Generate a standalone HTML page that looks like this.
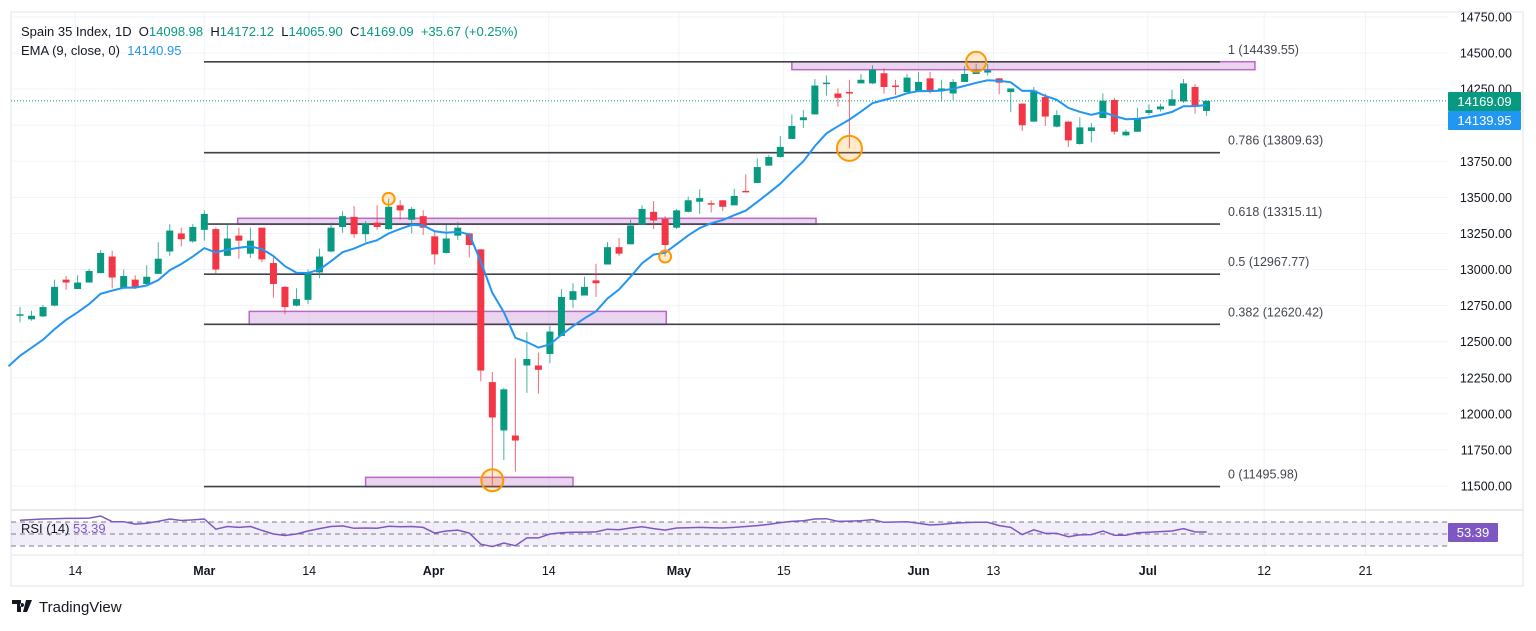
<!DOCTYPE html>
<html><head><meta charset="utf-8"><style>
html,body{margin:0;padding:0;background:#fff;}
body{width:1536px;height:626px;overflow:hidden;font-family:"Liberation Sans",sans-serif;}
svg text{font-family:"Liberation Sans",sans-serif;}
</style></head><body>
<svg id="chart" width="1536" height="626" xmlns="http://www.w3.org/2000/svg"></svg>
<script>
const opens=[12680,12655,12675,12750,12930,12865,12910,12975,13090,12875,12930,12900,12970,13125,13250,13195,13275,13280,13095,13235,13110,13290,13045,12880,12750,12790,12980,13125,13295,13365,13245,13325,13280,13445,13345,13370,13230,13115,13235,13250,13140,12220,11885,11850,12335,12335,12415,12540,12790,12820,12925,13035,13155,13175,13310,13400,13350,13290,13400,13470,13460,13480,13445,13545,13600,13720,13780,13905,14035,14075,14290,14220,14230,14290,14290,14360,14275,14230,14230,14325,14250,14220,14300,14355,14365,14325,14230,14150,14025,14195,13990,14025,13870,13960,14050,14175,13930,13955,14085,14110,14135,14165,14265,14098.98];
const closes=[12690,12680,12740,12880,12910,12910,12990,13115,12945,12955,12875,12950,13075,13270,13210,13295,13385,13000,13215,13200,13200,13070,12900,12740,12795,12975,13090,13290,13370,13245,13320,13295,13435,13410,13420,13290,13105,13215,13290,13170,12300,11975,12170,11815,12380,12305,12570,12810,12850,12880,12905,13155,13110,13305,13420,13340,13170,13410,13480,13495,13450,13435,13510,13535,13710,13780,13850,13995,14055,14275,14295,14190,14225,14315,14385,14265,14270,14330,14300,14235,14255,14300,14355,14380,14380,14295,14255,14000,14240,14060,14070,13895,13985,13985,14170,13955,13955,14050,14105,14130,14180,14290,14135,14169.09];
const highs=[12740,12715,12755,12930,12955,12960,13005,13135,13130,13000,12960,13030,13190,13315,13290,13315,13410,13290,13320,13290,13290,13290,13095,12885,12870,13000,13145,13325,13405,13440,13335,13445,13490,13480,13435,13410,13265,13310,13330,13255,13140,12290,12180,12385,12565,12425,12610,12865,12905,12950,13040,13190,13220,13345,13445,13475,13370,13420,13505,13555,13480,13480,13560,13660,13770,13795,13925,14075,14105,14320,14345,14255,14315,14355,14415,14395,14315,14355,14370,14370,14315,14320,14410,14425,14425,14325,14255,14150,14265,14220,14105,14030,14055,14015,14220,14190,13970,14120,14145,14150,14245,14320,14285,14172.12];
const lows=[12635,12645,12670,12745,12860,12865,12915,12975,12870,12870,12865,12885,12970,13095,13160,13185,13200,12975,13095,13075,13080,13050,12805,12690,12745,12760,12940,13120,13255,13220,13190,13275,13275,13345,13250,13240,13035,13110,13205,13085,12225,11496,11680,11600,12145,12140,12350,12540,12735,12820,12810,13035,13095,13175,13310,13280,13090,13280,13395,13385,13395,13405,13445,13535,13600,13720,13775,13905,13980,14075,14205,14130,13840,14290,14285,14220,14210,14230,14230,14220,14170,14175,14300,14355,14345,14215,14090,13960,14025,13995,13985,13850,13865,13880,14050,13935,13925,13955,14070,14095,14135,14155,14080,14065.90];
const rsiValues=[73,74,75,75.5,76,76,76.5,80,70.5,70.5,66.5,68,71,75,72.5,73.5,75,58,62.5,61,62.5,56,50,47.5,50,55,59,62.5,63.5,59.5,60,59.5,63,62,62.5,61,51.5,55,56.5,51.5,33,29,35,30.5,43.5,43.5,50,52,53,53,53.5,58,57,60,62,59,56.5,60,60.5,61,60.5,60,61,62.5,64,66,69,71,72,75,75.5,71,71.5,72,74,69.5,70,70.5,68,65,66,68,69,69.5,69.5,64,61,49,57,51,51,45.5,48.5,49,55,48,48,52,53,54,55,59,53.5,53.39];
const emaSeed=12330;
const priceTicks=[14750,14500,14250,14000,13750,13500,13250,13000,12750,12500,12250,12000,11750,11500];
const fibLevels=[1,0.786,0.618,0.5,0.382,0];
const fibPrices=[14439.55,13809.63,13315.11,12967.77,12620.42,11495.98];
const timeLabels=["14","Mar","14","Apr","14","May","15","Jun","13","Jul","12","21"];
const timeLabelIdx=[4.8,16,25.1,35.9,45.9,57.2,66.3,78,84.5,97.9,108,116.8];
const timeBold=[false,true,false,true,false,true,false,true,false,true,false,false];
const zonesPrice=[[14440,14385],[13355,13315],[12710,12620],[11560,11496]];
const zonesIdx=[[67.0,107.2],[18.9,69.1],[19.9,56.1],[30.0,48.0]];
const circleIdx=[83,72,32,56,41];
const circlePrice=[14440,13840,13490,13090,11540];
const circleR=[10,12.5,6,6,11];

const svg=document.getElementById('chart');
const NS='http://www.w3.org/2000/svg';
function yP(p){return 486-(p-11500)*(469/3250);}
function xI(i){return 20+i*11.52;}
function yR(v){return 534-(v-50)*0.6;}
function mk(tag,attrs,parent){const e=document.createElementNS(NS,tag);for(const k in attrs)e.setAttribute(k,attrs[k]);(parent||svg).appendChild(e);return e;}

// frame
let e;
e=mk('rect',{x:11,y:12,width:1512,height:574,fill:'none',stroke:'#e0e3eb','stroke-width':1});


const grid=mk('g',{});


priceTicks.forEach(p=>{mk('line',{x1:11,x2:1448,y1:yP(p),y2:yP(p),stroke:'#f0f3fa','stroke-width':1},grid);});
timeLabelIdx.forEach(i=>{mk('line',{x1:xI(i),x2:xI(i),y1:12,y2:555,stroke:'#f0f3fa','stroke-width':1},grid);});
e=mk('line',{x1:11,x2:1523,y1:510,y2:510,stroke:'#e0e3eb','stroke-width':1.5});


e=mk('line',{x1:11,x2:1523,y1:555,y2:555,stroke:'#e0e3eb','stroke-width':1});



// price axis labels
const pax=mk('g',{});


priceTicks.forEach(p=>{const t=mk('text',{x:1512,y:yP(p)+4.5,'text-anchor':'end','font-size':12.5,fill:'#131722'},pax);t.textContent=p.toFixed(2);

});

// zones
zonesPrice.forEach((z,k)=>{const r=mk('rect',{x:xI(zonesIdx[k][0]),y:yP(z[0]),width:xI(zonesIdx[k][1])-xI(zonesIdx[k][0]),height:Math.max(6,yP(z[1])-yP(z[0])),fill:'rgba(206,147,216,0.4)',stroke:'#ba68c8','stroke-width':1.5});

});

// fib lines
fibPrices.forEach((p,k)=>{const l=mk('line',{x1:204,x2:1220,y1:yP(p),y2:yP(p),stroke:'#40424a','stroke-width':1.6});


const t=mk('text',{x:1228,y:yP(p)-8,'font-size':12.5,fill:'#434651'});t.textContent=fibLevels[k]+' ('+p.toFixed(2)+')';

});

// current price line
e=mk('line',{x1:11,x2:1448,y1:yP(closes[closes.length-1]),y2:yP(closes[closes.length-1]),stroke:'#089981','stroke-width':1,'stroke-dasharray':'1 2'});



// candles
const cg=mk('g',{});


for(let i=0;i<opens.length;i++){
 const up=closes[i]>=opens[i];const col=up?'#089981':'#f23645';const x=xI(i);
 const g=mk('g',{},cg);
 
 
 mk('line',{x1:x,x2:x,y1:yP(highs[i]),y2:yP(lows[i]),stroke:col,'stroke-width':1,'stroke-opacity':0.75},g);
 const top=yP(Math.max(opens[i],closes[i])),bot=yP(Math.min(opens[i],closes[i]));
 mk('rect',{x:x-3.5,y:top,width:7,height:Math.max(1.5,bot-top),fill:col},g);
}

// EMA
let ema=emaSeed,pts=[[xI(-1),yP(emaSeed)]];
for(let i=0;i<closes.length;i++){ema=ema+(closes[i]-ema)*0.2;pts.push([xI(i),yP(ema)]);}
e=mk('polyline',{points:pts.map(p=>p[0].toFixed(1)+','+p[1].toFixed(1)).join(' '),fill:'none',stroke:'#2196f3','stroke-width':2});



// circles
circleIdx.forEach((ci,k)=>{const c=mk('circle',{cx:xI(ci),cy:yP(circlePrice[k]),r:circleR[k],fill:'rgba(255,152,0,0.2)',stroke:'#ff9800','stroke-width':2});

});

// price labels
e=mk('rect',{x:1448,y:92,width:73,height:19,fill:'#089981',rx:1});


e=mk('text',{x:1484.5,y:106,'text-anchor':'middle','font-size':13,fill:'#fff'});e.textContent=closes[closes.length-1].toFixed(2);


e=mk('rect',{x:1448,y:111,width:73,height:19,fill:'#2196f3',rx:1});


e=mk('text',{x:1484.5,y:125,'text-anchor':'middle','font-size':13,fill:'#fff'});e.textContent=ema.toFixed(2);



// RSI pane
e=mk('rect',{x:11,y:yR(70),width:1437,height:yR(30)-yR(70),fill:'rgba(126,87,194,0.1)'});


[70,50,30].forEach(v=>{const l=mk('line',{x1:11,x2:1448,y1:yR(v),y2:yR(v),stroke:'#787b86','stroke-width':1,'stroke-dasharray':'5 4'});

});
e=mk('polyline',{points:rsiValues.map((v,i)=>xI(i).toFixed(1)+','+yR(v).toFixed(1)).join(' '),fill:'none',stroke:'#7e57c2','stroke-width':1.5});


e=mk('rect',{x:1448,y:523,width:50,height:19,fill:'#7e57c2',rx:1});


e=mk('text',{x:1473,y:537,'text-anchor':'middle','font-size':13,fill:'#fff'});e.textContent=rsiValues[rsiValues.length-1].toFixed(2);


e=mk('text',{x:21,y:533,'font-size':13,fill:'#131722'});e.innerHTML='RSI (14) <tspan fill="#7e57c2">53.39</tspan>';



// time axis
const tax=mk('g',{});


timeLabels.forEach((s,k)=>{const t=mk('text',{x:xI(timeLabelIdx[k]),y:575,'text-anchor':'middle','font-size':12.5,'font-weight':timeBold[k]?'bold':'normal',fill:'#131722'},tax);t.textContent=s;

});

// legend
e=mk('text',{x:21,y:36,'font-size':13,fill:'#131722'});
e.innerHTML='Spain 35 Index, 1D&#160;&#160;O<tspan fill="#089981">14098.98</tspan>&#160;&#160;H<tspan fill="#089981">14172.12</tspan>&#160;&#160;L<tspan fill="#089981">14065.90</tspan>&#160;&#160;C<tspan fill="#089981">14169.09</tspan>&#160;&#160;<tspan fill="#089981">+35.67 (+0.25%)</tspan>';


e=mk('text',{x:21,y:55,'font-size':13,fill:'#131722'});
e.innerHTML='EMA (9, close, 0)&#160;&#160;<tspan fill="#2196f3">14140.95</tspan>';



// logo
const lg=mk('g',{});


mk('path',{d:'M12 600h9v12h-4v-8h-5z M22 603a2 2 0 1 0 0.1 0z M26 600h6l-5 12h-4z',fill:'#131722'},lg);
const lt=mk('text',{x:39,y:612,'font-size':15,fill:'#131722'},lg);lt.textContent='TradingView';
</script>
</body></html>
